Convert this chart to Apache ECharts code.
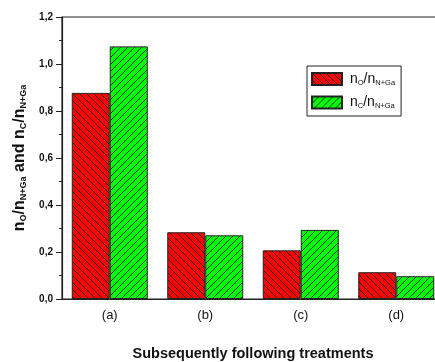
<!DOCTYPE html>
<html>
<head>
<meta charset="utf-8">
<script src="https://cdn.jsdelivr.net/npm/echarts@6/dist/echarts.min.js"></script>
<style>
  html, body { margin: 0; padding: 0; background: #fff; }
  #chart { width: 435px; height: 362px; }
</style>
</head>
<body>
<div id="chart"></div>
<script>
// data
var treatments = ['(a)', '(b)', '(c)', '(d)'];
var ratioO = [0.877, 0.284, 0.207, 0.114];   // n_O / n_N+Ga
var ratioC = [1.075, 0.271, 0.294, 0.097];   // n_C / n_N+Ga

// hatch fill: dir 1 = "\" , dir -1 = "/"
function hatch(bg, dir) {
    var s = 7;
    var c = document.createElement('canvas');
    c.width = s; c.height = s;
    var g = c.getContext('2d');
    g.fillStyle = bg;
    g.fillRect(0, 0, s, s);
    g.strokeStyle = '#111';
    g.lineWidth = 0.9;
    g.beginPath();
    for (var k = -1; k <= 1; k++) {
        if (dir > 0) { g.moveTo(k * s, 0); g.lineTo(k * s + s, s); }
        else { g.moveTo(k * s + s, 0); g.lineTo(k * s, s); }
    }
    g.stroke();
    return { image: c, repeat: 'repeat' };
}

var myChart = echarts.init(document.getElementById('chart'));
var option = {
    animation: false,
    grid: {
        left: 62, right: -9, top: 17, bottom: 63,
        outerBoundsMode: 'none', containLabel: false,
        show: true, borderColor: '#222', borderWidth: 1.2
    },
    legend: {
        left: 307, top: 66,
        orient: 'vertical',
        icon: 'rect',
        itemWidth: 30, itemHeight: 12, itemGap: 9,
        padding: [6, 6, 6, 4],
        borderColor: '#222', borderWidth: 1,
        textStyle: {
            fontFamily: 'Liberation Sans', fontSize: 14, color: '#111', padding: [0, 0, 0, 3],
            rich: { sub: { fontFamily: 'Liberation Sans', fontSize: 7.5, padding: [7, 0, 0, 0], color: '#111' } }
        },
        formatter: function (name) {
            return name === 'O' ? 'n{sub|O}/n{sub|N+Ga}' : 'n{sub|C}/n{sub|N+Ga}';
        },
        data: ['O', 'C']
    },
    xAxis: {
        type: 'category',
        data: treatments,
        name: 'Subsequently following treatments',
        nameLocation: 'middle',
        nameGap: 47,
        nameTextStyle: { fontFamily: 'Liberation Sans', fontSize: 14.5, fontWeight: 'bold', color: '#111' },
        axisLine: { lineStyle: { color: '#222', width: 1.2 } },
        axisTick: { alignWithLabel: true, length: 5, lineStyle: { color: '#222' } },
        axisLabel: { fontFamily: 'Liberation Sans', fontSize: 13, color: '#111', margin: 10 }
    },
    yAxis: {
        type: 'value',
        min: 0, max: 1.2, interval: 0.2,
        name: 'n{sub|O}/n{sub|N+Ga} and n{sub|C}/n{sub|N+Ga}',
        nameLocation: 'middle',
        nameGap: 18,
        nameTextStyle: {
            fontFamily: 'Liberation Sans', fontSize: 16, fontWeight: 'bold', color: '#111',
            rich: { sub: { fontFamily: 'Liberation Sans', fontSize: 9, fontWeight: 'bold', padding: [9, 0, 0, 0], color: '#111' } }
        },
        splitLine: { show: false },
        axisLine: { show: true, lineStyle: { color: '#222', width: 1.2 } },
        axisTick: { show: true, length: 6, lineStyle: { color: '#222' } },
        minorTick: { show: true, splitNumber: 2, length: 3, lineStyle: { color: '#222' } },
        axisLabel: {
            fontFamily: 'Liberation Sans', fontSize: 10, fontWeight: 'bold', color: '#111', margin: 9,
            formatter: function (v) { return v.toFixed(1).replace('.', ','); }
        }
    },
    series: [
        {
            name: 'O', type: 'bar', data: ratioO, barWidth: 38, barGap: 0,
            itemStyle: { color: hatch('#ff0000', 1), borderColor: '#222', borderWidth: 1 }
        },
        {
            name: 'C', type: 'bar', data: ratioC, barWidth: 38, barGap: 0,
            itemStyle: { color: hatch('#00ff00', -1), borderColor: '#222', borderWidth: 1 }
        }
    ]
};
myChart.setOption(option);
window.addEventListener('resize', function () { myChart.resize(); });
</script>
</body>
</html>
